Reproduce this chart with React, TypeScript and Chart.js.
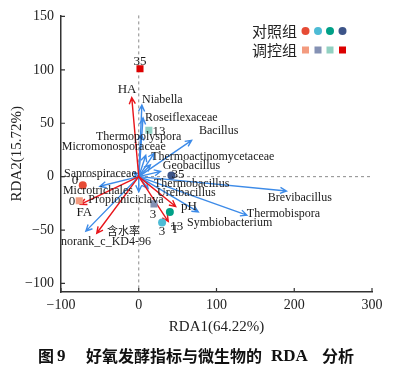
import React, { useEffect, useRef } from "react";
import { Chart, registerables } from "chart.js";
Chart.register(...registerables);

// ---- Data ----
const xTicks = [-100, 0, 100, 200, 300];
const yTicks = [-100, -50, 0, 50, 100, 150];

// sample points: control group (circles) and treatment group (squares)
const controlLabels = ["0", "3", "13", "35"];
const controlX = [-72, 30, 40, 42];
const controlY = [-8, -43, -33, 1];
const controlColors = ["#E64B35", "#4DBBD5", "#00A087", "#3C5488"];
const controlLabelX = [-82, 30, 49, 50.5];
const controlLabelY = [-3.6, -51, -46.5, 2];

const treatLabels = ["0", "3", "13", "35"];
const treatX = [-76.5, 19.6, 13, 1.6];
const treatY = [-22.6, -25.5, 43.5, 101];
const treatColors = ["#F39B7F", "#8491B4", "#91D1C2", "#DC0000"];
const treatLabelX = [-86, 18.3, 26, 1.6];
const treatLabelY = [-23.5, -35.5, 42.5, 108];

// environmental factors (red arrows)
const envNames = ["HA", "FA", "含水率", "pH", "T"];
const envX = [-9, -75, -54, 47.5, 38];
const envY = [74, -26, -53, -28, -42];
const envLabelX = [-15, -70, -19.5, 64.5, 46.6];
const envLabelY = [81.5, -33.5, -51, -28, -50];

// species (blue arrows)
const spNames = [
  "Niabella", "Roseiflexaceae", "Thermopolyspora", "Bacillus", "Micromonosporaceae",
  "Thermoactinomycetaceae", "Geobacillus", "Saprospiraceae", "Thermobacillus",
  "Microtrichales", "Ureibacillus", "Propioniciclava", "Brevibacillus",
  "Thermobispora", "Symbiobacterium", "norank_c_KD4-96",
];
const spX = [4, 5.5, 3, 68, 9, 20, 15, -6, 28, -50, 12, 0, 190, 139, 76.6, -68];
const spY = [67, 55, 40, 34, 20, 22, 11, 4, 5, -9, -11, -14, -13.4, -36, -33, -51];
const spLabelX = [4.2, 8, -55, 77.5, -99, 16, 31, -96, 19.6, -97.5, 23.5, -65, 166, 139, 62, -100];
const spLabelY = [72, 55.5, 37, 43, 28, 19, 10.5, 3, -7, -13.4, -15, -21.7, -20, -34.5, -43, -61];

const SERIF = "'Liberation Serif', 'DejaVu Serif', serif";
const CJK = "'Noto Sans CJK SC', sans-serif";

function drawArrow(ctx: CanvasRenderingContext2D, x0: number, y0: number, x1: number, y1: number, color: string) {
  const ang = Math.atan2(y1 - y0, x1 - x0);
  const h = 7;
  const a = 0.45;
  ctx.save();
  ctx.strokeStyle = color;
  ctx.lineWidth = 1.4;
  ctx.beginPath();
  ctx.moveTo(x0, y0);
  ctx.lineTo(x1, y1);
  ctx.moveTo(x1 - h * Math.cos(ang - a), y1 - h * Math.sin(ang - a));
  ctx.lineTo(x1, y1);
  ctx.lineTo(x1 - h * Math.cos(ang + a), y1 - h * Math.sin(ang + a));
  ctx.stroke();
  ctx.restore();
}

const fmt = (v: number) => (v < 0 ? "\u2212" + Math.abs(v) : String(v));

const rdaPlugin = {
  id: "rda",
  beforeDatasetsDraw(chart: any) {
    const { ctx, chartArea, scales } = chart;
    const xs = scales.x, ys = scales.y;
    const x0 = xs.getPixelForValue(0), y0 = ys.getPixelForValue(0);
    ctx.save();
    ctx.strokeStyle = "#8a8a8a";
    ctx.lineWidth = 1;
    ctx.setLineDash([3, 3]);
    ctx.beginPath();
    ctx.moveTo(x0, chartArea.top);
    ctx.lineTo(x0, chartArea.bottom);
    ctx.moveTo(chartArea.left, y0);
    ctx.lineTo(chartArea.right, y0);
    ctx.stroke();
    ctx.restore();
    for (let i = 0; i < spNames.length; i++) {
      drawArrow(ctx, x0, y0, xs.getPixelForValue(spX[i]), ys.getPixelForValue(spY[i]), "#3D8BE8");
    }
    for (let i = 0; i < envNames.length; i++) {
      drawArrow(ctx, x0, y0, xs.getPixelForValue(envX[i]), ys.getPixelForValue(envY[i]), "#E8151B");
    }
  },
  afterDatasetsDraw(chart: any) {
    const { ctx, chartArea, scales } = chart;
    const xs = scales.x, ys = scales.y;
    ctx.save();
    ctx.fillStyle = "#1a1a1a";
    ctx.textBaseline = "middle";
    // species labels
    ctx.font = `12px ${SERIF}`;
    ctx.textAlign = "left";
    for (let i = 0; i < spNames.length; i++) {
      ctx.fillText(spNames[i], xs.getPixelForValue(spLabelX[i]), ys.getPixelForValue(spLabelY[i]));
    }
    // env labels
    ctx.textAlign = "center";
    for (let i = 0; i < envNames.length; i++) {
      const isCjk = /[\u4e00-\u9fff]/.test(envNames[i]);
      ctx.font = isCjk ? `11px ${CJK}` : `13px ${SERIF}`;
      ctx.fillText(envNames[i], xs.getPixelForValue(envLabelX[i]), ys.getPixelForValue(envLabelY[i]));
    }
    // sample labels
    ctx.font = `13px ${SERIF}`;
    for (let i = 0; i < controlLabels.length; i++) {
      ctx.fillText(controlLabels[i], xs.getPixelForValue(controlLabelX[i]), ys.getPixelForValue(controlLabelY[i]));
      ctx.fillText(treatLabels[i], xs.getPixelForValue(treatLabelX[i]), ys.getPixelForValue(treatLabelY[i]));
    }
    // inward ticks
    ctx.strokeStyle = "#333";
    ctx.lineWidth = 1.2;
    ctx.beginPath();
    for (const v of xTicks) {
      const px = xs.getPixelForValue(v);
      ctx.moveTo(px, chartArea.bottom);
      ctx.lineTo(px, chartArea.bottom - 4);
    }
    for (const v of yTicks) {
      const py = ys.getPixelForValue(v);
      ctx.moveTo(chartArea.left, py);
      ctx.lineTo(chartArea.left + 4, py);
    }
    ctx.stroke();
    // axis titles
    ctx.fillStyle = "#222";
    ctx.font = `15px ${SERIF}`;
    ctx.textAlign = "center";
    ctx.fillText("RDA1(64.22%)", (chartArea.left + chartArea.right) / 2, 327);
    ctx.save();
    ctx.translate(17, (chartArea.top + chartArea.bottom) / 2);
    ctx.rotate(-Math.PI / 2);
    ctx.fillText("RDA2(15.72%)", 0, 0);
    ctx.restore();
    // legend
    ctx.font = `15px ${CJK}`;
    ctx.textAlign = "left";
    ctx.fillText("对照组", 252, 31);
    ctx.fillText("调控组", 252, 50);
    const lx = [305.5, 318, 330, 342.5];
    for (let i = 0; i < 4; i++) {
      ctx.fillStyle = controlColors[i];
      ctx.beginPath();
      ctx.arc(lx[i], 31, 4, 0, Math.PI * 2);
      ctx.fill();
      ctx.fillStyle = treatColors[i];
      ctx.fillRect(lx[i] - 3.5, 50 - 3.5, 7, 7);
    }
    // caption
    ctx.fillStyle = "#111";
    ctx.font = `bold 16px ${CJK}`;
    ctx.textAlign = "left";
    ctx.fillText("图", 38, 356);
    ctx.font = `bold 17px ${SERIF}`;
    ctx.fillText("9", 57, 357);
    ctx.font = `bold 16px ${CJK}`;
    ctx.fillText("好氧发酵指标与微生物的", 86, 356);
    ctx.font = `bold 17px ${SERIF}`;
    ctx.fillText("RDA", 271, 357);
    ctx.font = `bold 16px ${CJK}`;
    ctx.fillText("分析", 322, 356);
    ctx.restore();
  },
};

export default function App() {
  const ref = useRef<HTMLCanvasElement | null>(null);
  useEffect(() => {
    if (!ref.current) return;
    const chart = new Chart(ref.current, {
      type: "scatter",
      data: {
        datasets: [
          {
            label: "对照组",
            data: controlX.map((x, i) => ({ x, y: controlY[i] })),
            backgroundColor: controlColors,
            borderColor: controlColors,
            pointStyle: "circle",
            pointRadius: 4,
            borderWidth: 0,
          },
          {
            label: "调控组",
            data: treatX.map((x, i) => ({ x, y: treatY[i] })),
            backgroundColor: treatColors,
            borderColor: treatColors,
            pointStyle: "rect",
            pointRadius: 5,
            borderWidth: 0,
          },
        ],
      },
      options: {
        responsive: false,
        animation: false,
        devicePixelRatio: 1,
        layout: { padding: { left: 0, right: 37, top: 10, bottom: 0 } },
        plugins: { legend: { display: false }, tooltip: { enabled: false } },
        scales: {
          x: {
            type: "linear",
            min: -100,
            max: 300,
            afterBuildTicks: (s: any) => { s.ticks = xTicks.map((v) => ({ value: v })); },
            afterFit: (s: any) => { s.height = 81; },
            grid: { drawOnChartArea: false, drawTicks: false },
            border: { display: true, color: "#333", width: 1.5 },
            ticks: { padding: 5, color: "#222", font: { family: SERIF, size: 14 }, callback: (v: any) => fmt(Number(v)) },
          },
          y: {
            type: "linear",
            min: -108,
            max: 151,
            afterBuildTicks: (s: any) => { s.ticks = yTicks.map((v) => ({ value: v })); },
            afterFit: (s: any) => { s.width = 61; },
            grid: { drawOnChartArea: false, drawTicks: false },
            border: { display: true, color: "#333", width: 1.5 },
            ticks: { padding: 7, color: "#222", font: { family: SERIF, size: 14 }, callback: (v: any) => fmt(Number(v)) },
          },
        },
      },
      plugins: [rdaPlugin],
    });
    return () => chart.destroy();
  }, []);
  return (
    <div style={{ position: "fixed", left: 0, top: 0, width: 409, height: 373, background: "#fff" }}>
      <canvas ref={ref} width={409} height={373} style={{ width: 409, height: 373 }} />
    </div>
  );
}
